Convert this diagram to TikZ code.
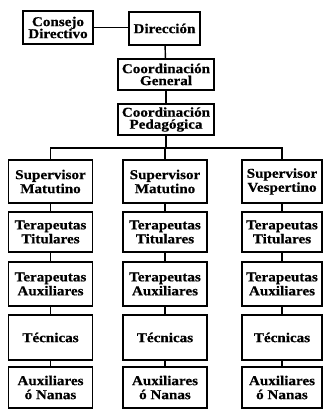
\documentclass[tikz,border=0pt]{standalone}
\usepackage{fontspec}
\newfontfamily\orgfont[FakeStretch=1.12,FakeBold=0.6]{Liberation Serif}
\begin{document}
\begin{tikzpicture}[x=1pt,y=-1pt,
  box/.style={draw, line width=1.6pt, inner sep=0pt, align=center,
    font=\orgfont\bfseries\fontsize{13.5}{14}\selectfont},
  link/.style={line width=1.4pt}]
\useasboundingbox (0,0) rectangle (323,411);
% top part
\node[box, minimum width=70, minimum height=33] (consejo) at (58,27.5) {Consejo\\[-2pt]Directivo};
\node[box, minimum width=71, minimum height=33] (direccion) at (164.5,28.5) {Dirección};
\node[box, minimum width=96, minimum height=31] (cgen) at (166,74.5) {Coordinación\\[-2pt]General};
\node[box, minimum width=96, minimum height=31] (cped) at (166,119.5) {Coordinación\\[-2pt]Pedagógica};
\draw[link] (consejo) -- (consejo -| direccion.west);
\draw[link] (direccion) -- (cgen);
\draw[link] (cgen) -- (cped);
% columns
\foreach \n/\cx/\w/\s in {a/50.5/84/Matutino, b/165/84/Matutino, c/282/80/Vespertino}{
  \node[box, minimum width=\w, minimum height=43] (sup\n) at (\cx,181.5) {Supervisor\\\s};
  \node[box, minimum width=\w, minimum height=40] (tt\n) at (\cx,232) {Terapeutas\\Titulares};
  \node[box, minimum width=\w, minimum height=44] (ta\n) at (\cx,284) {Terapeutas\\Auxiliares};
  \node[box, minimum width=\w, minimum height=45] (tec\n) at (\cx,337.5) {Técnicas};
  \node[box, minimum width=\w, minimum height=41] (aux\n) at (\cx,387.5) {Auxiliares\\ó Nanas};
  \draw[link] (sup\n) -- (tt\n);
  \draw[link] (tt\n) -- (ta\n);
  \draw[link] (ta\n) -- (tec\n);
  \draw[link] (tec\n) -- (aux\n);
}
\coordinate (bus) at (166,148);
\draw[link] (cped.south) -- (bus);
\draw[link] (supa.north) |- (bus) -| (supc.north);
\draw[link] (bus -| supb) -- (supb.north);
\end{tikzpicture}
\end{document}
